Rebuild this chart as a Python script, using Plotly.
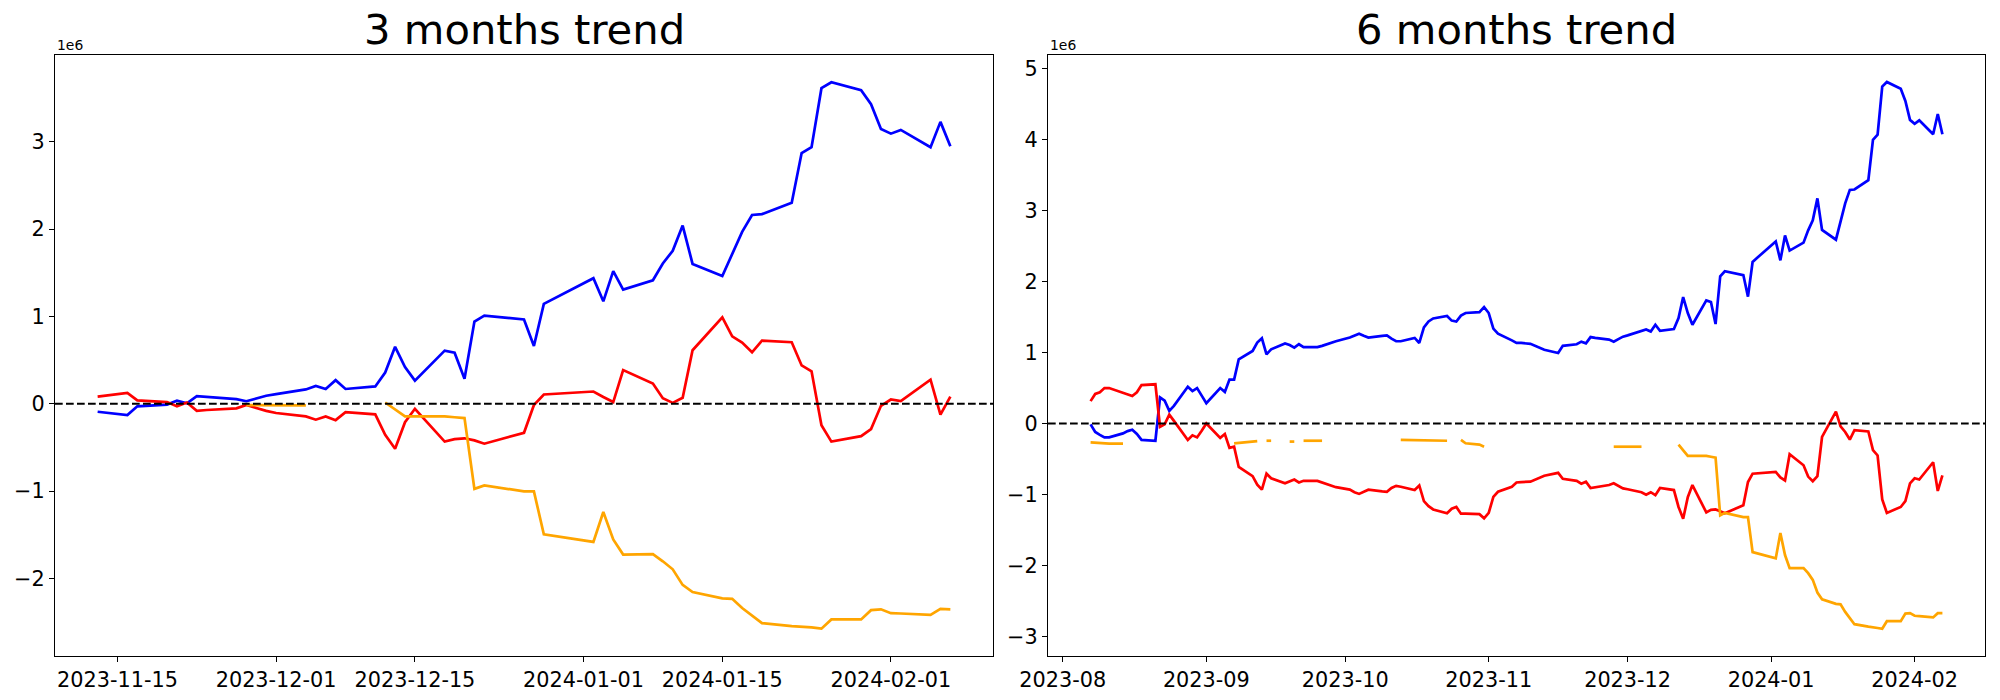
import plotly.graph_objects as go

# ---------------- 3 months panel data (values in 1e6) ----------------
dates_3m = [
    "2023-11-13", "2023-11-14", "2023-11-15", "2023-11-16", "2023-11-17",
    "2023-11-20", "2023-11-21", "2023-11-22", "2023-11-23", "2023-11-24",
    "2023-11-27", "2023-11-28", "2023-11-29", "2023-11-30",
    "2023-12-01", "2023-12-04", "2023-12-05", "2023-12-06", "2023-12-07", "2023-12-08",
    "2023-12-11", "2023-12-12", "2023-12-13", "2023-12-14", "2023-12-15",
    "2023-12-18", "2023-12-19", "2023-12-20", "2023-12-21", "2023-12-22",
    "2023-12-26", "2023-12-27", "2023-12-28", "2023-12-29",
    "2024-01-02", "2024-01-03", "2024-01-04", "2024-01-05",
    "2024-01-08", "2024-01-09", "2024-01-10", "2024-01-11", "2024-01-12",
    "2024-01-15", "2024-01-16", "2024-01-17", "2024-01-18", "2024-01-19",
    "2024-01-22", "2024-01-23", "2024-01-24", "2024-01-25", "2024-01-26",
    "2024-01-29", "2024-01-30", "2024-01-31",
    "2024-02-01", "2024-02-02", "2024-02-05", "2024-02-06", "2024-02-07",
]
blue_3m = [
    -0.092, -0.105, -0.118, -0.13, -0.03, -0.01, 0.034, 0.005, 0.087, 0.077,
    0.053, 0.029, 0.063, 0.092,
    0.11, 0.164, 0.203, 0.169, 0.27, 0.169, 0.198, 0.357, 0.652, 0.42, 0.265,
    0.608, 0.584, 0.285, 0.941, 1.009, 0.965, 0.661, 1.144, 1.202,
    1.438, 1.173, 1.52, 1.308, 1.414, 1.607, 1.752, 2.041, 1.602,
    1.462, 1.716, 1.969, 2.162, 2.172, 2.302, 2.872, 2.939, 3.615, 3.682,
    3.591, 3.431, 3.147,
    3.094, 3.137, 2.939, 3.229, 2.949,
]
red_3m = [
    0.082, 0.097, 0.116, 0.125, 0.039, 0.019, -0.03, 0.014, -0.082, -0.072,
    -0.053, -0.014, -0.048, -0.082,
    -0.106, -0.145, -0.183, -0.145, -0.188, -0.097, -0.121, -0.357, -0.516, -0.212, -0.058,
    -0.434, -0.405, -0.396, -0.42, -0.458, -0.333, -0.014, 0.106, 0.113,
    0.14, 0.077, 0.019, 0.386, 0.232, 0.063, 0.01, 0.068, 0.613,
    0.989, 0.772, 0.70, 0.589, 0.724, 0.705, 0.439, 0.372, -0.246, -0.434,
    -0.372, -0.29, -0.024,
    0.048, 0.029, 0.275, -0.125, 0.082,
]
orange_3m = [
    None, None, None, None, None, None, None, None, None, None,
    None, -0.015, -0.015, -0.018,
    -0.02, -0.02, None, None, None, None, None, 0.014, -0.068, -0.145, -0.145,
    -0.145, -0.155, -0.164, -0.975, -0.936, -1.004, -1.004, -1.496, -1.515,
    -1.583, -1.24, -1.554, -1.728, -1.723, -1.805, -1.897, -2.075, -2.157,
    -2.23, -2.235, -2.341, -2.428, -2.514, -2.548, -2.553, -2.563, -2.577, -2.471,
    -2.471, -2.365, -2.355,
    -2.399, -2.403, -2.418, -2.35, -2.355,
]

# ---------------- 6 months panel data (values in 1e6) ----------------
dates_6m = [
    "2023-08-07", "2023-08-08", "2023-08-09", "2023-08-10", "2023-08-11",
    "2023-08-14", "2023-08-15", "2023-08-16", "2023-08-17", "2023-08-18",
    "2023-08-21", "2023-08-22", "2023-08-23", "2023-08-24", "2023-08-25",
    "2023-08-28", "2023-08-29", "2023-08-30", "2023-08-31",
    "2023-09-01", "2023-09-04", "2023-09-05", "2023-09-06", "2023-09-07", "2023-09-08",
    "2023-09-11", "2023-09-12", "2023-09-13", "2023-09-14", "2023-09-15",
    "2023-09-18", "2023-09-19", "2023-09-20", "2023-09-21", "2023-09-22",
    "2023-09-25", "2023-09-26", "2023-09-27", "2023-09-28", "2023-09-29",
    "2023-10-02", "2023-10-03", "2023-10-04", "2023-10-05", "2023-10-06",
    "2023-10-09", "2023-10-10", "2023-10-11", "2023-10-12", "2023-10-13",
    "2023-10-16", "2023-10-17", "2023-10-18", "2023-10-19", "2023-10-20",
    "2023-10-23", "2023-10-24", "2023-10-25", "2023-10-26", "2023-10-27",
    "2023-10-30", "2023-10-31",
    "2023-11-01", "2023-11-02", "2023-11-03", "2023-11-06", "2023-11-07",
    "2023-11-08", "2023-11-09", "2023-11-10", "2023-11-13", "2023-11-14",
    "2023-11-15", "2023-11-16", "2023-11-17", "2023-11-20", "2023-11-21",
    "2023-11-22", "2023-11-23", "2023-11-24", "2023-11-27", "2023-11-28",
    "2023-11-29", "2023-11-30",
    "2023-12-01", "2023-12-04", "2023-12-05", "2023-12-06", "2023-12-07", "2023-12-08",
    "2023-12-11", "2023-12-12", "2023-12-13", "2023-12-14", "2023-12-15",
    "2023-12-18", "2023-12-19", "2023-12-20", "2023-12-21", "2023-12-22",
    "2023-12-26", "2023-12-27", "2023-12-28", "2023-12-29",
    "2024-01-02", "2024-01-03", "2024-01-04", "2024-01-05",
    "2024-01-08", "2024-01-09", "2024-01-10", "2024-01-11", "2024-01-12",
    "2024-01-15", "2024-01-16", "2024-01-17", "2024-01-18", "2024-01-19",
    "2024-01-22", "2024-01-23", "2024-01-24", "2024-01-25", "2024-01-26",
    "2024-01-29", "2024-01-30", "2024-01-31",
    "2024-02-01", "2024-02-02", "2024-02-05", "2024-02-06", "2024-02-07",
]
blue_6m = [
    -0.012, -0.119, -0.16, -0.196, -0.196, -0.14, -0.107, -0.089, -0.148, -0.232,
    -0.243, 0.368, 0.321, 0.178, 0.249, 0.517, 0.457, 0.499, 0.392,
    0.285, 0.499, 0.445, 0.618, 0.618, 0.903, 1.021, 1.14, 1.2, 0.974, 1.045,
    1.128, 1.105, 1.069, 1.116, 1.075, 1.075, 1.093, 1.116, 1.14, 1.158,
    1.211, 1.241, 1.265, 1.235, 1.211, 1.235, 1.241, 1.194, 1.158, 1.158,
    1.205, 1.134, 1.354, 1.437, 1.479, 1.514, 1.449, 1.437, 1.52, 1.556,
    1.568, 1.639,
    1.556, 1.336, 1.265, 1.17, 1.134, 1.134, 1.128, 1.122, 1.039, 1.021,
    1.004, 0.992, 1.093, 1.116, 1.152, 1.128, 1.217, 1.205, 1.182, 1.152,
    1.188, 1.223,
    1.241, 1.306, 1.324, 1.295, 1.39, 1.306, 1.33, 1.485, 1.781, 1.556, 1.39,
    1.734, 1.71, 1.401, 2.072, 2.144, 2.09, 1.787, 2.274, 2.334,
    2.565, 2.298, 2.648, 2.435, 2.547, 2.72, 2.862, 3.171, 2.726,
    2.589, 2.838, 3.1, 3.29, 3.296, 3.426, 3.996, 4.068, 4.745, 4.81,
    4.715, 4.543, 4.276,
    4.222, 4.27, 4.074, 4.359, 4.074,
]
red_6m = [
    0.315, 0.416, 0.439, 0.499, 0.499, 0.434, 0.41, 0.386, 0.439, 0.54,
    0.552, -0.048, -0.012, 0.125, 0.036, -0.232, -0.166, -0.196, -0.101,
    0.0, -0.202, -0.148, -0.344, -0.327, -0.612, -0.742, -0.861, -0.932, -0.707, -0.772,
    -0.843, -0.82, -0.79, -0.831, -0.808, -0.808, -0.831, -0.855, -0.879, -0.897,
    -0.932, -0.968, -0.992, -0.962, -0.932, -0.956, -0.962, -0.909, -0.879, -0.891,
    -0.938, -0.873, -1.093, -1.164, -1.211, -1.265, -1.2, -1.176, -1.271, -1.271,
    -1.277, -1.336,
    -1.259, -1.033, -0.962, -0.891, -0.831, -0.825, -0.82, -0.82, -0.736, -0.719,
    -0.707, -0.695, -0.778, -0.808, -0.849, -0.82, -0.909, -0.897, -0.867, -0.843,
    -0.879, -0.914,
    -0.926, -0.968, -1.004, -0.968, -1.01, -0.909, -0.938, -1.176, -1.342, -1.039, -0.867,
    -1.253, -1.217, -1.211, -1.235, -1.265, -1.152, -0.825, -0.707, -0.701,
    -0.683, -0.76, -0.802, -0.433, -0.588, -0.748, -0.814, -0.742, -0.19,
    0.166, -0.042, -0.119, -0.226, -0.095, -0.113, -0.374, -0.451, -1.069, -1.259,
    -1.176, -1.093, -0.843,
    -0.772, -0.79, -0.546, -0.95, -0.73,
]
orange_6m = [
    -0.267, -0.273, -0.28, -0.285, -0.285, -0.285, None, None, None, None,
    None, None, None, None, None, None, None, None, None,
    None, None, None, None, -0.279, -0.273, -0.261, -0.249, None, -0.243, -0.243,
    None, -0.255, -0.255, None, -0.243, -0.243, -0.243, None, None, None,
    None, None, None, None, None, None, None, None, None, -0.232,
    -0.234, -0.236, -0.238, -0.24, -0.241, -0.243, None, None, -0.232, -0.279,
    -0.297, -0.327,
    None, None, None, None, None, None, None, None, None, None,
    None, None, None, None, None, None, None, None, None, -0.327,
    -0.327, -0.327,
    -0.327, -0.327, None, None, None, None, None, -0.297, -0.38, -0.457, -0.457,
    -0.457, -0.469, -0.481, -1.295, -1.259, -1.318, -1.318, -1.811, -1.829,
    -1.9, -1.544, -1.853, -2.037, -2.037, -2.108, -2.203, -2.381, -2.476,
    -2.541, -2.547, -2.654, -2.743, -2.827, -2.862, -2.868, -2.88, -2.892, -2.785,
    -2.785, -2.678, -2.672,
    -2.708, -2.714, -2.732, -2.672, -2.672,
]

# ---------------- ticks / titles ----------------
titles = ["3 months trend", "6 months trend"]
xtick_vals_3m = ["2023-11-15", "2023-12-01", "2023-12-15", "2024-01-01", "2024-01-15", "2024-02-01"]
xtick_text_3m = xtick_vals_3m
xtick_vals_6m = ["2023-08-01", "2023-09-01", "2023-10-01", "2023-11-01", "2023-12-01", "2024-01-01", "2024-02-01"]
xtick_text_6m = ["2023-08", "2023-09", "2023-10", "2023-11", "2023-12", "2024-01", "2024-02"]
ytick_vals_3m = [-2, -1, 0, 1, 2, 3]
ytick_vals_6m = [-3, -2, -1, 0, 1, 2, 3, 4, 5]
offset_label = "1e6"

BLUE, RED, ORANGE = "#0000ff", "#ff0000", "#ffa500"
FONT = "DejaVu Sans"
LW = 2.7

def ytxt(vals):
    return [("\u2212" + str(abs(v))) if v < 0 else str(v) for v in vals]

fig = go.Figure()

for xa, ya, d, series in [
    ("x", "y", dates_3m, [(blue_3m, BLUE), (red_3m, RED), (orange_3m, ORANGE)]),
    ("x2", "y2", dates_6m, [(blue_6m, BLUE), (red_6m, RED), (orange_6m, ORANGE)]),
]:
    for vals, col in series:
        fig.add_trace(go.Scatter(x=d, y=vals, mode="lines", xaxis=xa, yaxis=ya,
                                 line=dict(color=col, width=LW), connectgaps=False,
                                 showlegend=False, hoverinfo="skip"))

axis_common = dict(showline=True, linecolor="black", linewidth=1.1, mirror=True,
                   ticks="outside", ticklen=5, tickwidth=1.1, tickcolor="black",
                   showgrid=False, zeroline=False, automargin=False,
                   tickfont=dict(family=FONT, size=20.8, color="black"))

W, H = 2000, 700
ML, MR, MT, MB = 55, 15, 55, 44
PW = W - ML - MR

fig.update_layout(
    width=W, height=H,
    margin=dict(l=ML, r=MR, t=MT, b=MB, autoexpand=False),
    paper_bgcolor="white", plot_bgcolor="white",
    showlegend=False,
    xaxis=dict(domain=[0, 938 / PW], type="date",
               range=["2023-11-08 16:48", "2024-02-11 07:12"],
               tickvals=xtick_vals_3m, ticktext=xtick_text_3m, **axis_common),
    yaxis=dict(domain=[0, 1], range=[-2.890, 3.995],
               tickvals=ytick_vals_3m, ticktext=ytxt(ytick_vals_3m), **axis_common),
    xaxis2=dict(domain=[993 / PW, 1], type="date", anchor="y2",
                range=["2023-07-28 19:12", "2024-02-16 04:48"],
                tickvals=xtick_vals_6m, ticktext=xtick_text_6m, **axis_common),
    yaxis2=dict(domain=[0, 1], anchor="x2", range=[-3.275, 5.19],
                tickvals=ytick_vals_6m, ticktext=ytxt(ytick_vals_6m), **axis_common),
)

# zero reference lines
for xr, yr in [("x domain", "y"), ("x2 domain", "y2")]:
    fig.add_shape(type="line", xref=xr, yref=yr, x0=0, x1=1, y0=0, y1=0,
                  line=dict(color="black", width=2.1, dash="7.7px,3.3px"), layer="above")

# titles and offset labels
d1 = [0, 938 / PW]
d2 = [993 / PW, 1]
for dom, t in zip([d1, d2], titles):
    fig.add_annotation(text=t, xref="paper", yref="paper", x=(dom[0] + dom[1]) / 2, y=1,
                       xanchor="center", yanchor="bottom", showarrow=False, yshift=-1,
                       font=dict(family=FONT, size=41.7, color="black"))
    fig.add_annotation(text=offset_label, xref="paper", yref="paper", x=dom[0], y=1,
                       xanchor="left", yanchor="bottom", showarrow=False, yshift=0,
                       font=dict(family=FONT, size=13.9, color="black"))

fig.write_html("out.html", config={"displayModeBar": False},
               post_script="document.body.style.margin='0';document.body.style.padding='0';")
